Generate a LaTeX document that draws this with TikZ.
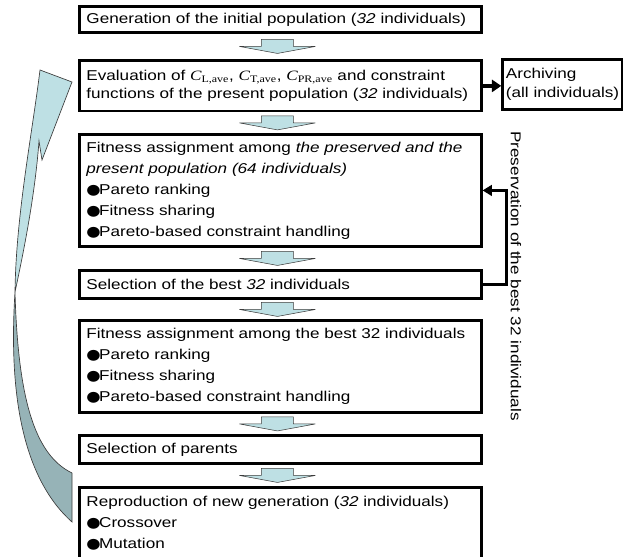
\documentclass[tikz,border=0pt]{standalone}
\usepackage{fontspec}
\setmainfont[FakeStretch=1.2]{Liberation Sans}
\newfontfamily\timesfont[FakeStretch=1.2]{Liberation Serif}
\newfontfamily\bulletfont[FakeStretch=1.15]{DejaVu Sans}
\usepackage{tikz}
\usetikzlibrary{arrows.meta,positioning,calc}
\definecolor{arrowBlue}{HTML}{BEE0E4}
\definecolor{loopBack}{HTML}{96B3B7}
\definecolor{edgeGray}{HTML}{3C3C3C}
\newcommand{\cave}[1]{{\timesfont\itshape C}\textsubscript{\timesfont #1}}
\newcommand{\blt}{{\bulletfont ●}\kern-1.2pt}

\begin{document}
\begin{tikzpicture}[x=0.75pt,y=-0.75pt,
    stepbox/.style={draw,line width=2pt,anchor=north west,align=left,
                    text width=291pt,inner xsep=5.1pt,inner ysep=1pt,
                    font=\fontsize{10.7}{15.75}\selectfont},
    tightbox/.style={stepbox,font=\fontsize{10.7}{13.7}\selectfont},
    flowarrow/.style={draw=edgeGray,line width=0.4pt,fill=arrowBlue},
    loopfront/.style={draw=edgeGray,line width=0.5pt,fill=arrowBlue},
    loopback/.style={draw=edgeGray,line width=0.5pt,fill=loopBack},
    archline/.style={line width=2.6pt,-{Triangle[length=7pt,width=9pt]}},
    keepline/.style={line width=2pt,-{Triangle[length=7pt,width=8pt]}}
  ]
  \useasboundingbox (0,0) rectangle (623,556);

  % main column of steps
  \node[stepbox,minimum height=19.2pt] (b1) at (78.3,5.3)
    {Generation of the initial population (\textit{32} individuals)};
  \node[tightbox,minimum height=37.9pt] (b2) at (78.3,59.3)
    {Evaluation of \cave{L,ave}, \cave{T,ave}, \cave{PR,ave} and constraint\\
     functions of the present population (\textit{32} individuals)};
  \node[stepbox,minimum height=83.7pt] (b3) at (78.3,133.3)
    {Fitness assignment among \textit{the preserved and the}\\
     \textit{present population (64 individuals)}\\
     \blt Pareto ranking\\
     \blt Fitness sharing\\
     \blt Pareto-based constraint handling};
  \node[stepbox,minimum height=20.7pt] (b4) at (78.3,269.3)
    {Selection of the best \textit{32} individuals};
  \node[stepbox,minimum height=68.7pt] (b5) at (78.3,319.3)
    {Fitness assignment among the best 32 individuals\\
     \blt Pareto ranking\\
     \blt Fitness sharing\\
     \blt Pareto-based constraint handling};
  \node[stepbox,minimum height=20.7pt] (b6) at (78.3,434.3)
    {Selection of parents};
  \node[stepbox,minimum height=53pt] (b7) at (78.3,486.3)
    {Reproduction of new generation (\textit{32} individuals)\\
     \blt Crossover\\
     \blt Mutation};

  % archive box on the right
  \node[tightbox,text width=,inner xsep=2.5pt,minimum width=89pt,
        minimum height=37.2pt] (arch) at (501.3,58.3)
    {Archiving\\(all individuals)};

  % block arrows between the steps
  \foreach \a/\b in {b1/b2,b2/b3,b3/b4,b4/b5,b5/b6,b6/b7}
    \draw[flowarrow] ($(\a.south)!0.5!(\b.north)+(-3,0)$) ++(-16,-7) -- ++(32,0)
      -- ++(0,7) -- ++(22,0) -- ++(-38,7) -- ++(-38,-7) -- ++(22,0) -- cycle;

  % archiving and preservation
  \draw[archline] (b2.east) -- (b2.east -| arch.west);
  \draw[keepline] (b4.east) -- ++(24,0) |- (b3.east);
  \node[rotate=-90,font=\fontsize{10.7}{12}\selectfont] (preslbl) at (516,276)
    {Preservation of the best 32 individuals};

  % big loop arrow back to the evaluation
  \draw[loopback] (15,292) .. controls (8,400) and (25,480) .. (72,522)
    -- (72,473) .. controls (35,455) and (18,400) .. (15,292) -- cycle;
  \draw[loopfront] (40,70) -- (72,82) -- (42,160) -- (39,141)
    .. controls (35,195) and (24,250) .. (15,292)
    .. controls (16,215) and (32,135) .. (40,70) -- cycle;
\end{tikzpicture}
\end{document}
